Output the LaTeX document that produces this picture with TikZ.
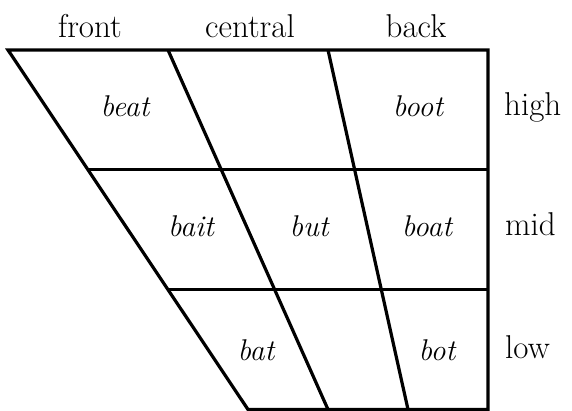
\documentclass[tikz,border=0pt]{standalone}
\usepackage{fontspec}
\usetikzlibrary{calc}

\newlength{\du}
\setlength{\du}{1pt}

\tikzset{
  chartline/.style={line width=3.2\du, line join=miter},
  colhead/.style={anchor=base, inner sep=0pt, font=\fontsize{33}{39}\selectfont},
  rowhead/.style={anchor=base west, inner sep=0pt, font=\fontsize{33}{39}\selectfont},
  vowel/.style={anchor=base, inner sep=0pt, font=\fontsize{30}{35}\selectfont\itshape}
}

\begin{document}
\begin{tikzpicture}[x=\du,y=-\du]
\useasboundingbox (0,0) rectangle (572,411);
% corners of the chart
\coordinate (frontTop) at (8,50);
\coordinate (centralTop) at (168,50);
\coordinate (backTop) at (328,50);
\coordinate (rightTop) at (488,50);
\coordinate (frontBot) at (248,409.5);
\coordinate (centralBot) at (328,409.5);
\coordinate (backBot) at (408,409.5);
\coordinate (rightBot) at (488,409.5);
% row boundaries
\coordinate (frontMid) at ($(frontTop)!1/3!(frontBot)$);
\coordinate (frontLow) at ($(frontTop)!2/3!(frontBot)$);
\coordinate (rightMid) at ($(rightTop)!1/3!(rightBot)$);
\coordinate (rightLow) at ($(rightTop)!2/3!(rightBot)$);
% outline
\draw[chartline] (frontTop)--(rightTop)--(rightBot)--(frontBot)--cycle;
% columns
\draw[chartline] (centralTop)--(centralBot);
\draw[chartline] (backTop)--(backBot);
% rows
\draw[chartline] (frontMid)--(rightMid);
\draw[chartline] (frontLow)--(rightLow);
% headings
\node[colhead] (front) at (90,38){front};
\node[colhead] (central) at (250,38){central};
\node[colhead] (back) at (416,38){back};
\node[rowhead] (high) at (504,116){high};
\node[rowhead] (mid) at (505,236){mid};
\node[rowhead] (low) at (505,358){low};
% vowels
\node[vowel] (beat) at (125,117){beat};
\node[vowel] (boot) at (418,117){boot};
\node[vowel] (bait) at (191,237){bait};
\node[vowel] (but) at (309,237){but};
\node[vowel] (boat) at (427,237){boat};
\node[vowel] (bat) at (256,360){bat};
\node[vowel] (bot) at (437,360){bot};
\end{tikzpicture}
\end{document}
